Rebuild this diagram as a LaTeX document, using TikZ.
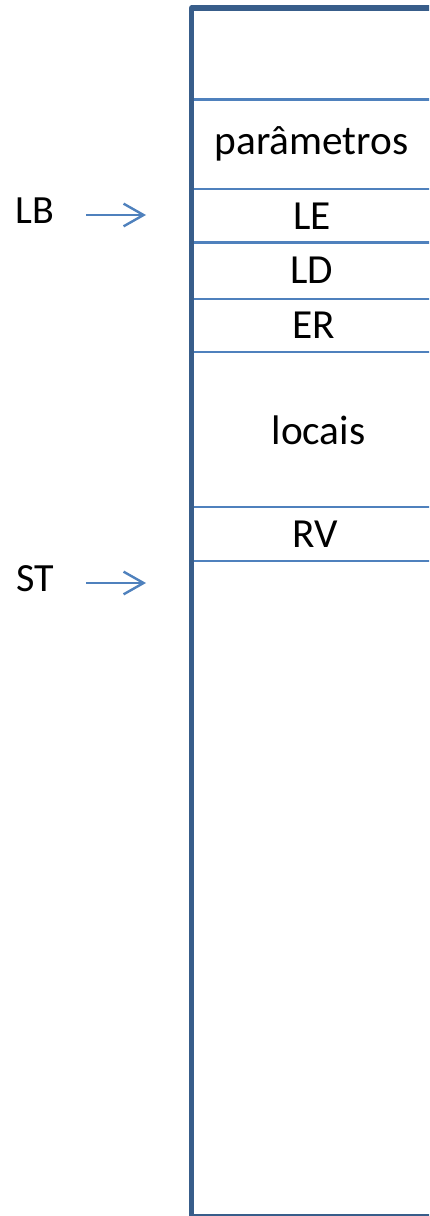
\documentclass[tikz,border=0pt]{standalone}
\usepackage{fontspec}
\setmainfont{Carlito}
\usetikzlibrary{arrows.meta}
\definecolor{framecol}{HTML}{385D8A}
\definecolor{linecol}{HTML}{4F81BD}
\tikzset{
  frame/.style={draw=framecol, line width=3.8pt},
  sep/.style={draw=linecol, line width=1.6pt},
  celltext/.style={font=\fontsize{31}{36}\selectfont, inner sep=0pt, anchor=center},
  labeltext/.style={font=\fontsize{30}{35}\selectfont, inner sep=0pt, anchor=center},
  ptr/.style={draw=linecol, line width=1.8pt, -{Straight Barb[length=15pt, width=17pt, line width=1.8pt]}}
}
\begin{document}
\begin{tikzpicture}[x=0.75pt, y=-0.75pt]
\useasboundingbox (0,0) rectangle (429,1216);
\begin{scope}
\clip (0,0) rectangle (429,1216);
% separators
\foreach \yy in {99.5,189,242.5,299,352,507,561}
  \draw[sep] (191.5,\yy) -- (440,\yy);
% bottom edge (thin)
\draw[draw=framecol, line width=1.3pt] (191.5,1215) -- (440,1215);
% frame
\draw[frame, line join=round] (440,8) -- (191.5,8) -- (191.5,1215.5);
\end{scope}
% cell texts
\node[celltext] (par) at (311.5,144) {parâmetros};
\node[celltext] (le) at (312,216) {LE};
\node[celltext] (ld) at (312,270.5) {LD};
\node[celltext] (er) at (313.5,325) {ER};
\node[celltext] (loc) at (318.5,430) {locais};
\node[celltext] (rv) at (315,534) {RV};
% pointer labels
\node[labeltext] (lb) at (35,211) {LB};
\node[labeltext] (st) at (35,579) {ST};
\coordinate (lbs) at (86,215);
\coordinate (lbe) at (146,215);
\coordinate (sts) at (86,583);
\coordinate (ste) at (146,583);
\draw[ptr] (lbs) -- (lbe);
\draw[ptr] (sts) -- (ste);
\end{tikzpicture}
\end{document}
